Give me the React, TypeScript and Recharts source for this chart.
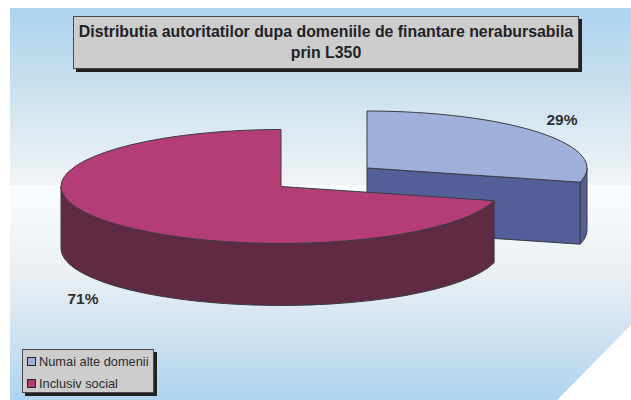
import React from "react";
import { PieChart, Pie, Legend } from "recharts";

const categories = ["Numai alte domenii", "Inclusiv social"];
const shares = [29, 71];
const topColors = ["#9fb0da", "#b43c77"];
const wallColors = ["#545f99", "#602b42"];
const titleLines = ["Distributia autoritatilor dupa domeniile de finantare nerabursabila", "prin L350"];

const rows = categories.map((name, i) => ({ name, value: shares[i], fill: topColors[i] }));

const W = 631;
const H = 400;
const CX = 281;
const CY = 186.5;
const R = 220;
const TILT = 0.259;
const DEPTH = 62;
const EXPLODE = [
  { dx: 86, dy: -18.5 },
  { dx: 0, dy: 0 },
];
const LABEL_POS = [
  { dx: 281, dy: -67.5 },
  { dx: -198, dy: 111.5 },
];
const EDGE = "#3a3a40";

const rad = (a: number) => (a * Math.PI) / 180;

function Slice3D(props: any) {
  const { cx, cy, outerRadius, startAngle, endAngle, index } = props;
  const off = EXPLODE[index] ?? { dx: 0, dy: 0 };
  const x0 = cx + off.dx;
  const y0 = cy + off.dy;
  const rx = outerRadius;
  const ry = outerRadius * TILT;
  const px = (a: number) => x0 + rx * Math.cos(rad(a));
  const py = (a: number) => y0 - ry * Math.sin(rad(a));
  const hi = Math.max(startAngle, endAngle);
  const lo = Math.min(startAngle, endAngle);
  const large = hi - lo > 180 ? 1 : 0;
  const top = `M${x0},${y0} L${px(hi)},${py(hi)} A${rx},${ry} 0 ${large} 1 ${px(lo)},${py(lo)} Z`;

  const wallHi = Math.min(hi, 0);
  const wallLo = Math.max(lo, -180);
  const hasOuter = wallHi > wallLo;
  const outer = hasOuter
    ? `M${px(wallHi)},${py(wallHi)} A${rx},${ry} 0 0 1 ${px(wallLo)},${py(wallLo)} L${px(wallLo)},${py(wallLo) + DEPTH} A${rx},${ry} 0 0 0 ${px(wallHi)},${py(wallHi) + DEPTH} Z`
    : "";
  const cutVisible = Math.sin(rad(lo - 90)) < -1e-6;
  const cut = cutVisible
    ? `M${x0},${y0} L${px(lo)},${py(lo)} L${px(lo)},${py(lo) + DEPTH} L${x0},${y0 + DEPTH} Z`
    : "";
  const wall = wallColors[index];
  return (
    <g>
      {outer && <path d={outer} fill={wall} stroke={EDGE} strokeWidth={1} />}
      {cut && <path d={cut} fill={wall} stroke={EDGE} strokeWidth={1} />}
      <path d={top} fill={topColors[index]} stroke={EDGE} strokeWidth={1} />
    </g>
  );
}

function SliceLabel(props: any) {
  const { cx, cy, index, percent } = props;
  const pos = LABEL_POS[index];
  return (
    <text
      x={cx + pos.dx}
      y={cy + pos.dy}
      textAnchor="middle"
      dominantBaseline="central"
      fontFamily="Liberation Sans"
      fontWeight={700}
      fontSize={15.5}
      fill="#2f2f33"
    >
      {`${Math.round(percent * 100)}%`}
    </text>
  );
}

function LegendBox(props: any) {
  const items = categories.map((c) => (props.payload ?? []).find((p: any) => p.value === c)).filter(Boolean);
  return (
    <div>
      {items.map((it: any, i: number) => (
        <div
          key={it.value}
          style={{ position: "absolute", left: 4, top: i * 22 + 7, display: "flex", alignItems: "center", whiteSpace: "nowrap" }}
        >
          <span style={{ width: 7, height: 7, background: it.color, border: "1px solid #222", display: "inline-block", marginRight: 3 }} />
          <span style={{ fontFamily: "Liberation Sans", fontSize: 12.8, lineHeight: "9px", color: "#2b2b2e" }}>{it.value}</span>
        </div>
      ))}
    </div>
  );
}

const boxStyle: React.CSSProperties = {
  position: "absolute",
  boxSizing: "border-box",
  background: "#cdcdcd",
  border: "1px solid #4a4a50",
  boxShadow: "3px 3px 0 #222",
};

export default function App() {
  return (
    <div style={{ position: "absolute", left: 0, top: 0, width: W, height: H, overflow: "hidden", background: "#fff" }}>
      <div
        style={{
          position: "absolute",
          left: 10,
          top: 8,
          width: W - 10,
          height: H - 8,
          clipPath: "polygon(0 0, 100% 0, 100% 317px, 547px 100%, 0 100%)",
        }}
      >
        <div style={{ position: "absolute", left: 0, top: 0, right: 0, height: 177, background: "linear-gradient(#acd3ef, #c6dfee 40%, #f1f4f5)" }} />
        <div style={{ position: "absolute", left: 0, top: 177, right: 0, bottom: 0, background: "linear-gradient(#f9fdff, #e9eef2 43%, #afd4ef)" }} />
      </div>
      <div style={{ ...boxStyle, left: 73, top: 16, width: 506, height: 53 }}>
        {titleLines.map((line, i) => (
          <div
            key={line}
            style={{
              position: "absolute",
              left: 0,
              right: 0,
              top: 4.5 + i * 21,
              textAlign: "center",
              whiteSpace: "nowrap",
              fontFamily: "Liberation Sans",
              fontWeight: 700,
              fontSize: 15.87,
              lineHeight: "20px",
              color: "#222226",
            }}
          >
            {line}
          </div>
        ))}
      </div>
      <PieChart width={W} height={H} style={{ position: "absolute", left: 0, top: 0 }} margin={{ top: 0, right: 0, bottom: 0, left: 0 }}>
        <Pie
          data={rows}
          dataKey="value"
          nameKey="name"
          cx={CX}
          cy={CY}
          innerRadius={0}
          outerRadius={R}
          startAngle={90}
          endAngle={-270}
          paddingAngle={0}
          stroke="none"
          shape={Slice3D}
          label={SliceLabel}
          labelLine={false}
          isAnimationActive={false}
        />
        <Legend
          content={LegendBox}
          wrapperStyle={{ ...boxStyle, left: 22, top: 349, width: 132, height: 44, bottom: "auto" }}
        />
      </PieChart>
    </div>
  );
}
